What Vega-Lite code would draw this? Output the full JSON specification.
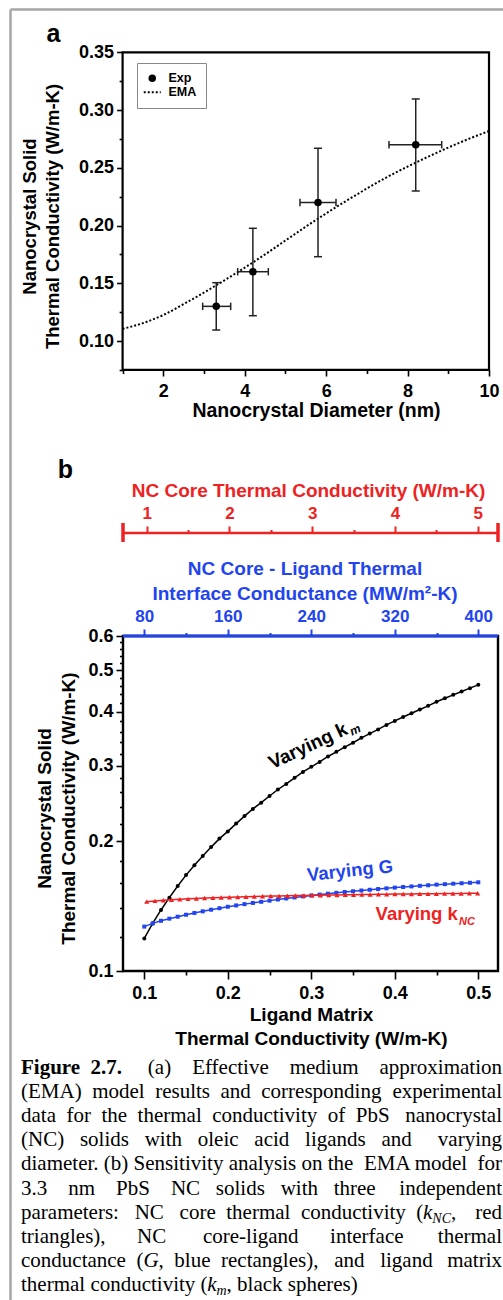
{
"$schema": "https://vega.github.io/schema/vega-lite/v6.json",
"width": 493, "height": 1291,
"autosize": {"type": "none"},
"padding": {"left": 10, "top": 9, "right": 0, "bottom": 0},
"background": "white",
"config": {
  "view": {"stroke": null},
  "font": "Liberation Sans",
  "axis": {"grid": false, "domain": false, "labelFont": "Liberation Sans", "titleFont": "Liberation Sans", "labelFontWeight": "bold", "titleFontWeight": "bold", "labelColor": "black", "titleColor": "black", "tickColor": "black", "tickWidth": 1.6, "labelOverlap": false, "labelFlush": false, "labelBound": false}
},
"datasets": {
  "ema": [
    {"d":1.0,"k":0.1105,"series":"EMA"},{"d":1.5,"k":0.1155,"series":"EMA"},{"d":2.0,"k":0.1225,"series":"EMA"},{"d":2.5,"k":0.132,"series":"EMA"},
    {"d":3.0,"k":0.142,"series":"EMA"},{"d":3.5,"k":0.1525,"series":"EMA"},{"d":4.0,"k":0.1635,"series":"EMA"},{"d":4.5,"k":0.175,"series":"EMA"},
    {"d":5.0,"k":0.187,"series":"EMA"},{"d":5.5,"k":0.199,"series":"EMA"},{"d":6.0,"k":0.2105,"series":"EMA"},{"d":6.5,"k":0.2215,"series":"EMA"},
    {"d":7.0,"k":0.232,"series":"EMA"},{"d":7.5,"k":0.242,"series":"EMA"},{"d":8.0,"k":0.251,"series":"EMA"},{"d":8.5,"k":0.2595,"series":"EMA"},
    {"d":9.0,"k":0.2675,"series":"EMA"},{"d":9.5,"k":0.275,"series":"EMA"},{"d":10.0,"k":0.2818,"series":"EMA"}
  ],
  "exp": [
    {"d":3.3,"k":0.13,"dlo":2.967,"dhi":3.655,"klo":0.1095,"khi":0.1505,"series":"Exp"},
    {"d":4.2,"k":0.16,"dlo":3.827,"dhi":4.579,"klo":0.1219,"khi":0.1976,"series":"Exp"},
    {"d":5.8,"k":0.22,"dlo":5.357,"dhi":6.242,"klo":0.173,"khi":0.2669,"series":"Exp"},
    {"d":8.2,"k":0.27,"dlo":7.543,"dhi":8.838,"klo":0.2299,"khi":0.3096,"series":"Exp"}
  ],
  "km": [
    {"km":0.10,"k":0.119},{"km":0.11,"k":0.129},{"km":0.12,"k":0.1386},{"km":0.13,"k":0.148},{"km":0.14,"k":0.1576},
    {"km":0.15,"k":0.167},{"km":0.16,"k":0.176},{"km":0.17,"k":0.185},{"km":0.18,"k":0.194},{"km":0.19,"k":0.203},
    {"km":0.20,"k":0.211},{"km":0.21,"k":0.220},{"km":0.22,"k":0.229},{"km":0.23,"k":0.238},{"km":0.24,"k":0.246},
    {"km":0.25,"k":0.255},{"km":0.26,"k":0.264},{"km":0.27,"k":0.272},{"km":0.28,"k":0.281},{"km":0.29,"k":0.290},
    {"km":0.30,"k":0.298},{"km":0.31,"k":0.306},{"km":0.32,"k":0.315},{"km":0.33,"k":0.323},{"km":0.34,"k":0.331},
    {"km":0.35,"k":0.339},{"km":0.36,"k":0.348},{"km":0.37,"k":0.356},{"km":0.38,"k":0.364},{"km":0.39,"k":0.373},
    {"km":0.40,"k":0.381},{"km":0.41,"k":0.389},{"km":0.42,"k":0.397},{"km":0.43,"k":0.405},{"km":0.44,"k":0.413},
    {"km":0.45,"k":0.422},{"km":0.46,"k":0.430},{"km":0.47,"k":0.438},{"km":0.48,"k":0.446},{"km":0.49,"k":0.454},
    {"km":0.50,"k":0.462}
  ],
  "g": [
    {"G":80,"k":0.1268},{"G":88,"k":0.129},{"G":96,"k":0.1308},{"G":104,"k":0.1323},{"G":112,"k":0.1337},
    {"G":120,"k":0.1351},{"G":128,"k":0.1364},{"G":136,"k":0.1376},{"G":144,"k":0.1388},{"G":152,"k":0.1399},
    {"G":160,"k":0.141},{"G":168,"k":0.142},{"G":176,"k":0.143},{"G":184,"k":0.1439},{"G":192,"k":0.1448},
    {"G":200,"k":0.1457},{"G":208,"k":0.1466},{"G":216,"k":0.1474},{"G":224,"k":0.1482},{"G":232,"k":0.149},
    {"G":240,"k":0.1498},{"G":248,"k":0.1505},{"G":256,"k":0.1512},{"G":264,"k":0.1519},{"G":272,"k":0.1526},
    {"G":280,"k":0.1532},{"G":288,"k":0.1538},{"G":296,"k":0.1544},{"G":304,"k":0.155},{"G":312,"k":0.1556},
    {"G":320,"k":0.1562},{"G":328,"k":0.1567},{"G":336,"k":0.1572},{"G":344,"k":0.1577},{"G":352,"k":0.1582},
    {"G":360,"k":0.1587},{"G":368,"k":0.1591},{"G":376,"k":0.1595},{"G":384,"k":0.1599},{"G":392,"k":0.1603},
    {"G":400,"k":0.1607}
  ],
  "knc": [
    {"kNC":1.0,"k":0.1449},{"kNC":1.1,"k":0.1455},{"kNC":1.2,"k":0.146},{"kNC":1.3,"k":0.1464},{"kNC":1.4,"k":0.1468},
    {"kNC":1.5,"k":0.1471},{"kNC":1.6,"k":0.1474},{"kNC":1.7,"k":0.1477},{"kNC":1.8,"k":0.148},{"kNC":1.9,"k":0.1482},
    {"kNC":2.0,"k":0.1484},{"kNC":2.1,"k":0.1486},{"kNC":2.2,"k":0.1488},{"kNC":2.3,"k":0.149},{"kNC":2.4,"k":0.1491},
    {"kNC":2.5,"k":0.1493},{"kNC":2.6,"k":0.1494},{"kNC":2.7,"k":0.1495},{"kNC":2.8,"k":0.1497},{"kNC":2.9,"k":0.1498},
    {"kNC":3.0,"k":0.1499},{"kNC":3.1,"k":0.15},{"kNC":3.2,"k":0.1501},{"kNC":3.3,"k":0.1502},{"kNC":3.4,"k":0.1503},
    {"kNC":3.5,"k":0.1504},{"kNC":3.6,"k":0.1505},{"kNC":3.7,"k":0.1506},{"kNC":3.8,"k":0.1507},{"kNC":3.9,"k":0.1508},
    {"kNC":4.0,"k":0.1509},{"kNC":4.1,"k":0.151},{"kNC":4.2,"k":0.151},{"kNC":4.3,"k":0.1511},{"kNC":4.4,"k":0.1512},
    {"kNC":4.5,"k":0.1512},{"kNC":4.6,"k":0.1513},{"kNC":4.7,"k":0.1514},{"kNC":4.8,"k":0.1514},{"kNC":4.9,"k":0.1515},
    {"kNC":5.0,"k":0.1515}
  ],
  "cap": [
    {"line":1,"part":"B","text":"Figure\u00a0\u00a02.7."},
    {"line":1,"part":"R","text":"(a)\u00a0\u00a0\u00a0\u00a0Effective\u00a0\u00a0\u00a0\u00a0medium\u00a0\u00a0\u00a0\u00a0approximation"},
    {"line":2,"part":"L","text":"(EMA)\u00a0\u00a0model\u00a0\u00a0results\u00a0\u00a0and\u00a0\u00a0corresponding"},
    {"line":2,"part":"R","text":"experimental"},
    {"line":3,"part":"L","text":"data\u00a0\u00a0for\u00a0\u00a0the\u00a0\u00a0thermal\u00a0\u00a0conductivity\u00a0\u00a0of\u00a0\u00a0PbS"},
    {"line":3,"part":"R","text":"nanocrystal"},
    {"line":4,"part":"L","text":"(NC)\u00a0\u00a0\u00a0solids\u00a0\u00a0\u00a0with\u00a0\u00a0\u00a0oleic\u00a0\u00a0\u00a0acid\u00a0\u00a0\u00a0ligands\u00a0\u00a0\u00a0and"},
    {"line":4,"part":"R","text":"varying"},
    {"line":5,"part":"L","text":"diameter. (b) Sensitivity analysis on the\u00a0 EMA model"},
    {"line":5,"part":"R","text":"for"},
    {"line":6,"part":"L","text":"3.3\u00a0\u00a0\u00a0\u00a0nm\u00a0\u00a0\u00a0\u00a0PbS\u00a0\u00a0\u00a0\u00a0NC\u00a0\u00a0\u00a0solids\u00a0\u00a0\u00a0with\u00a0\u00a0\u00a0three"},
    {"line":6,"part":"R","text":"independent"},
    {"line":7,"part":"L","text":"parameters:\u00a0\u00a0\u00a0NC\u00a0\u00a0\u00a0core\u00a0\u00a0thermal\u00a0\u00a0conductivity\u00a0\u00a0("},
    {"line":7,"part":"k7","text":"k"},
    {"line":7,"part":"NC7","text":"NC"},
    {"line":7,"part":"c7","text":","},
    {"line":7,"part":"R","text":"red"},
    {"line":8,"part":"L","text":"triangles),\u00a0\u00a0\u00a0\u00a0\u00a0\u00a0NC\u00a0\u00a0\u00a0\u00a0\u00a0\u00a0\u00a0core-ligand\u00a0\u00a0\u00a0\u00a0\u00a0\u00a0interface"},
    {"line":8,"part":"R","text":"thermal"},
    {"line":9,"part":"L","text":"conductance\u00a0\u00a0("},
    {"line":9,"part":"G9","text":"G"},
    {"line":9,"part":"r9","text":",\u00a0\u00a0blue\u00a0\u00a0rectangles),\u00a0\u00a0\u00a0and\u00a0\u00a0\u00a0ligand"},
    {"line":9,"part":"R","text":"matrix"},
    {"line":10,"part":"L","text":"thermal conductivity ("},
    {"line":10,"part":"k10","text":"k"},
    {"line":10,"part":"m10","text":"m"},
    {"line":10,"part":"r10","text":", black spheres)"}
  ]
},
"layer": [
  {
    "layer": [
      {
        "data": {"values": [{}]},
        "mark": {"type": "rect", "filled": false, "color": "black", "strokeWidth": 2.2},
        "encoding": {
          "x": {"datum": 1, "type": "quantitative", "scale": {"domain": [-1.76573, 10.34357], "nice": false, "zero": false},
                "axis": {"orient": "bottom", "offset": -930, "values": [1,2,3,4,5,6,7,8,9,10],
                         "tickSize": {"condition": {"test": "datum.value % 2 == 0", "value": 6}, "value": 3.5},
                         "labelExpr": "datum.value % 2 == 0 ? datum.label : ''", "labelFontSize": 18, "labelPadding": 6,
                         "title": "Nanocrystal Diameter (nm)", "titleFontSize": 19.5, "titlePadding": 1, "titleX": 306}},
          "x2": {"datum": 10},
          "y": {"datum": 0.075, "type": "quantitative", "scale": {"domain": [-0.730447, 0.387496], "nice": false, "zero": false},
                "axis": {"orient": "left", "offset": -112.6,
                         "values": [0.075,0.1,0.125,0.15,0.175,0.2,0.225,0.25,0.275,0.3,0.325,0.35],
                         "tickSize": {"condition": {"test": "abs(datum.value*20 - round(datum.value*20)) < 0.001", "value": 6}, "value": 3.5},
                         "labelExpr": "abs(datum.value*20 - round(datum.value*20)) < 0.001 ? format(datum.value, '.2f') : ''",
                         "labelFontSize": 18, "labelPadding": 3,
                         "title": ["Nanocrystal Solid", "Thermal Conductivity (W/m-K)"], "titleFontSize": 18.5, "titleLineHeight": 23,
                         "titlePadding": 16, "titleY": 207}},
          "y2": {"datum": 0.35}
        }
      },
      {
        "data": {"name": "ema"},
        "mark": {"type": "line", "color": "black", "strokeWidth": 2, "interpolate": "monotone"},
        "encoding": {
          "x": {"field": "d", "type": "quantitative", "scale": {"domain": [-1.76573, 10.34357], "nice": false, "zero": false}},
          "y": {"field": "k", "type": "quantitative", "scale": {"domain": [-0.730447, 0.387496], "nice": false, "zero": false}},
          "strokeDash": {"field": "series", "type": "nominal", "scale": {"domain": ["Exp", "EMA"], "range": [[1, 0], [2, 2]]},
            "legend": {"orient": "none", "legendX": 127, "legendY": 54, "title": null, "padding": 9, "strokeColor": "#888888", "fillColor": "white",
                       "labelFont": "Liberation Sans", "labelFontWeight": "bold", "labelFontSize": 12.5, "labelOffset": 10, "rowPadding": 1,
                       "symbolSize": 289, "symbolStrokeColor": "black", "symbolFillColor": "black",
                       "encode": {"symbols": {"update": {"size": {"signal": "datum.value === 'Exp' ? 56 : 289"}, "strokeWidth": {"signal": "datum.value === 'Exp' ? 0 : 2"}, "fill": {"value": "black"}, "stroke": {"value": "black"}}}}}}
        }
      },
      {
        "data": {"name": "exp"},
        "mark": {"type": "rule", "color": "#222222", "strokeWidth": 1.5},
        "encoding": {
          "x": {"field": "d", "type": "quantitative", "scale": {"domain": [-1.76573, 10.34357], "nice": false, "zero": false}},
          "y": {"field": "klo", "type": "quantitative", "scale": {"domain": [-0.730447, 0.387496], "nice": false, "zero": false}},
          "y2": {"field": "khi"}
        }
      },
      {
        "data": {"name": "exp"},
        "mark": {"type": "rule", "color": "#222222", "strokeWidth": 1.5},
        "encoding": {
          "x": {"field": "dlo", "type": "quantitative", "scale": {"domain": [-1.76573, 10.34357], "nice": false, "zero": false}},
          "x2": {"field": "dhi"},
          "y": {"field": "k", "type": "quantitative", "scale": {"domain": [-0.730447, 0.387496], "nice": false, "zero": false}}
        }
      },
      {
        "data": {"name": "exp"},
        "mark": {"type": "point", "shape": "stroke", "size": 64, "color": "#222222", "strokeWidth": 1.5, "opacity": 1, "filled": false},
        "encoding": {
          "x": {"field": "d", "type": "quantitative", "scale": {"domain": [-1.76573, 10.34357], "nice": false, "zero": false}},
          "y": {"field": "klo", "type": "quantitative", "scale": {"domain": [-0.730447, 0.387496], "nice": false, "zero": false}}
        }
      },
      {
        "data": {"name": "exp"},
        "mark": {"type": "point", "shape": "stroke", "size": 64, "color": "#222222", "strokeWidth": 1.5, "opacity": 1, "filled": false},
        "encoding": {
          "x": {"field": "d", "type": "quantitative", "scale": {"domain": [-1.76573, 10.34357], "nice": false, "zero": false}},
          "y": {"field": "khi", "type": "quantitative", "scale": {"domain": [-0.730447, 0.387496], "nice": false, "zero": false}}
        }
      },
      {
        "data": {"name": "exp"},
        "mark": {"type": "point", "shape": "M0,-1L0,1", "size": 56, "color": "#222222", "strokeWidth": 1.5, "opacity": 1, "filled": false},
        "encoding": {
          "x": {"field": "dlo", "type": "quantitative", "scale": {"domain": [-1.76573, 10.34357], "nice": false, "zero": false}},
          "y": {"field": "k", "type": "quantitative", "scale": {"domain": [-0.730447, 0.387496], "nice": false, "zero": false}}
        }
      },
      {
        "data": {"name": "exp"},
        "mark": {"type": "point", "shape": "M0,-1L0,1", "size": 56, "color": "#222222", "strokeWidth": 1.5, "opacity": 1, "filled": false},
        "encoding": {
          "x": {"field": "dhi", "type": "quantitative", "scale": {"domain": [-1.76573, 10.34357], "nice": false, "zero": false}},
          "y": {"field": "k", "type": "quantitative", "scale": {"domain": [-0.730447, 0.387496], "nice": false, "zero": false}}
        }
      },
      {
        "data": {"name": "exp"},
        "mark": {"type": "point", "filled": true, "size": 56, "color": "black", "opacity": 1},
        "encoding": {
          "x": {"field": "d", "type": "quantitative", "scale": {"domain": [-1.76573, 10.34357], "nice": false, "zero": false}},
          "y": {"field": "k", "type": "quantitative", "scale": {"domain": [-0.730447, 0.387496], "nice": false, "zero": false}},
          "shape": {"field": "series", "type": "nominal", "scale": {"domain": ["Exp", "EMA"], "range": ["circle", "stroke"]},
            "legend": {"orient": "none", "legendX": 127, "legendY": 54, "title": null, "padding": 9, "strokeColor": "#888888", "fillColor": "white",
                       "labelFont": "Liberation Sans", "labelFontWeight": "bold", "labelFontSize": 12.5, "labelOffset": 10, "rowPadding": 1,
                       "symbolSize": 289, "symbolStrokeColor": "black", "symbolFillColor": "black",
                       "encode": {"symbols": {"update": {"size": {"signal": "datum.value === 'Exp' ? 56 : 289"}, "strokeWidth": {"signal": "datum.value === 'Exp' ? 0 : 2"}, "fill": {"value": "black"}, "stroke": {"value": "black"}}}}}}
        }
      },
      {
        "data": {"values": [{}]},
        "mark": {"type": "text", "text": "a", "font": "Liberation Sans", "fontWeight": "bold", "fontSize": 25, "align": "center", "baseline": "alphabetic", "color": "black"},
        "encoding": {
          "x": {"datum": -0.6973, "type": "quantitative", "scale": {"domain": [-1.76573, 10.34357], "nice": false, "zero": false}},
          "y": {"datum": 0.35892, "type": "quantitative", "scale": {"domain": [-0.730447, 0.387496], "nice": false, "zero": false}}
        }
      }
    ]
  },
  {
    "layer": [
      {
        "layer": [
          {
            "data": {"values": [{}]},
            "mark": {"type": "rect", "filled": false, "color": "black", "strokeWidth": 2.4},
            "encoding": {
              "x": {"datum": 0.074491, "type": "quantitative", "scale": {"domain": [-0.060838, 0.529581], "nice": false, "zero": false},
                    "axis": {"orient": "bottom", "offset": -329, "values": [0.1,0.15,0.2,0.25,0.3,0.35,0.4,0.45,0.5],
                             "tickSize": {"condition": {"test": "abs(datum.value*10 - round(datum.value*10)) < 0.001", "value": 8}, "value": 4},
                             "labelExpr": "abs(datum.value*10 - round(datum.value*10)) < 0.001 ? format(datum.value, '.1f') : ''",
                             "labelFontSize": 18, "labelPadding": 5,
                             "title": ["Ligand Matrix", "Thermal Conductivity (W/m-K)"], "titleFontSize": 19, "titleLineHeight": 24, "titlePadding": 3, "titleX": 301}},
              "x2": {"datum": 0.523593},
              "y": {"datum": 0.1, "type": "quantitative", "scale": {"type": "log", "domain": [0.0172102, 17.1622], "nice": false},
                    "axis": {"orient": "left", "offset": -113,
                             "values": [0.1,0.12,0.14,0.16,0.18,0.2,0.22,0.24,0.26,0.28,0.3,0.32,0.34,0.36,0.38,0.4,0.42,0.44,0.46,0.48,0.5,0.52,0.54,0.56,0.58,0.6],
                             "tickSize": {"condition": {"test": "abs(datum.value*10 - round(datum.value*10)) < 0.001", "value": 7}, "value": 3.5},
                             "labelExpr": "abs(datum.value*10 - round(datum.value*10)) < 0.001 ? format(datum.value, '.1f') : ''",
                             "labelFontSize": 18, "labelPadding": 3,
                             "title": ["Nanocrystal Solid", "Thermal Conductivity (W/m-K)"], "titleFontSize": 19, "titleLineHeight": 24,
                             "titlePadding": 9, "titleY": 799}},
              "y2": {"datum": 0.6}
            }
          },
          {
            "data": {"name": "km"},
            "mark": {"type": "line", "color": "black", "strokeWidth": 1.5, "point": {"filled": true, "size": 16, "color": "black"}},
            "encoding": {
              "x": {"field": "km", "type": "quantitative", "scale": {"domain": [-0.060838, 0.529581], "nice": false, "zero": false}},
              "y": {"field": "k", "type": "quantitative", "scale": {"type": "log", "domain": [0.0172102, 17.1622], "nice": false}}
            }
          },
          {
            "data": {"values": [{}]},
            "mark": {"type": "text", "text": "Varying k", "font": "Liberation Sans", "fontWeight": "bold", "fontSize": 19, "angle": 335, "align": "center", "baseline": "middle", "color": "black"},
            "encoding": {
              "x": {"datum": 0.296048, "type": "quantitative", "scale": {"domain": [-0.060838, 0.529581], "nice": false, "zero": false}},
              "y": {"datum": 0.333154, "type": "quantitative", "scale": {"type": "log", "domain": [0.0172102, 17.1622], "nice": false}}
            }
          },
          {
            "data": {"values": [{}]},
            "mark": {"type": "text", "text": "m", "font": "Liberation Sans", "fontWeight": "bold", "fontStyle": "italic", "fontSize": 12, "angle": 335, "align": "center", "baseline": "middle", "color": "black"},
            "encoding": {
              "x": {"datum": 0.352575, "type": "quantitative", "scale": {"domain": [-0.060838, 0.529581], "nice": false, "zero": false}},
              "y": {"datum": 0.36295, "type": "quantitative", "scale": {"type": "log", "domain": [0.0172102, 17.1622], "nice": false}}
            }
          },
          {
            "data": {"values": [{}]},
            "mark": {"type": "text", "text": "Varying G", "font": "Liberation Sans", "fontWeight": "bold", "fontSize": 18.5, "angle": 354, "align": "center", "baseline": "middle", "color": "#2244ee"},
            "encoding": {
              "x": {"datum": 0.346347, "type": "quantitative", "scale": {"domain": [-0.060838, 0.529581], "nice": false, "zero": false}},
              "y": {"datum": 0.170996, "type": "quantitative", "scale": {"type": "log", "domain": [0.0172102, 17.1622], "nice": false}}
            }
          },
          {
            "data": {"values": [{}]},
            "mark": {"type": "text", "text": "Varying k", "font": "Liberation Sans", "fontWeight": "bold", "fontSize": 18.5, "align": "center", "baseline": "middle", "color": "#ee2222"},
            "encoding": {
              "x": {"datum": 0.426228, "type": "quantitative", "scale": {"domain": [-0.060838, 0.529581], "nice": false, "zero": false}},
              "y": {"datum": 0.135645, "type": "quantitative", "scale": {"type": "log", "domain": [0.0172102, 17.1622], "nice": false}}
            }
          },
          {
            "data": {"values": [{}]},
            "mark": {"type": "text", "text": "NC", "font": "Liberation Sans", "fontWeight": "bold", "fontStyle": "italic", "fontSize": 11, "align": "center", "baseline": "middle", "color": "#ee2222"},
            "encoding": {
              "x": {"datum": 0.486467, "type": "quantitative", "scale": {"domain": [-0.060838, 0.529581], "nice": false, "zero": false}},
              "y": {"datum": 0.129963, "type": "quantitative", "scale": {"type": "log", "domain": [0.0172102, 17.1622], "nice": false}}
            }
          },
          {
            "data": {"values": [{}]},
            "mark": {"type": "text", "text": "b", "font": "Liberation Sans", "fontWeight": "bold", "fontSize": 25, "align": "center", "baseline": "alphabetic", "color": "black"},
            "encoding": {
              "x": {"datum": 0.005629, "type": "quantitative", "scale": {"domain": [-0.060838, 0.529581], "nice": false, "zero": false}},
              "y": {"datum": 1.39694, "type": "quantitative", "scale": {"type": "log", "domain": [0.0172102, 17.1622], "nice": false}}
            }
          }
        ]
      },
      {
        "layer": [
          {
            "data": {"values": [{}]},
            "mark": {"type": "rule", "color": "#2244ee", "strokeWidth": 3},
            "encoding": {
              "x": {"datum": 59.593, "type": "quantitative", "scale": {"domain": [-48.671, 423.665], "nice": false, "zero": false},
                    "axis": {"orient": "top", "offset": -627, "values": [80,120,160,200,240,280,320,360,400],
                             "tickSize": {"condition": {"test": "datum.value % 80 == 0", "value": 7}, "value": 3.5},
                             "tickColor": "#2244ee", "tickWidth": 2, "labelColor": "#2244ee",
                             "labelExpr": "datum.value % 80 == 0 ? format(datum.value, 'd') : ''", "labelFontSize": 17, "labelPadding": 4,
                             "title": ["NC Core - Ligand Thermal", "Interface Conductance (MW/m²-K)"], "titleColor": "#2244ee",
                             "titleFontSize": 19, "titleLineHeight": 25, "titlePadding": 4, "titleX": 294.5}},
              "x2": {"datum": 418.874},
              "y": {"datum": 0.6, "type": "quantitative", "scale": {"type": "log", "domain": [0.0172102, 17.1622], "nice": false}}
            }
          },
          {
            "data": {"name": "g"},
            "mark": {"type": "line", "color": "#2244ee", "strokeWidth": 1.5, "point": {"filled": true, "shape": "square", "size": 16, "color": "#2244ee"}},
            "encoding": {
              "x": {"field": "G", "type": "quantitative", "scale": {"domain": [-48.671, 423.665], "nice": false, "zero": false}},
              "y": {"field": "k", "type": "quantitative", "scale": {"type": "log", "domain": [0.0172102, 17.1622], "nice": false}}
            }
          }
        ]
      },
      {
        "layer": [
          {
            "data": {"values": [{}]},
            "mark": {"type": "rule", "color": "#ee2222", "strokeWidth": 2.6},
            "encoding": {
              "x": {"datum": 0.7136, "type": "quantitative", "scale": {"domain": [-0.65196, 5.30574], "nice": false, "zero": false},
                    "axis": {"orient": "top", "offset": -524, "values": [1,1.5,2,2.5,3,3.5,4,4.5,5],
                             "tickSize": {"condition": {"test": "datum.value % 1 == 0", "value": 7}, "value": 3.5},
                             "tickColor": "#ee2222", "tickWidth": 2, "labelColor": "#ee2222",
                             "labelExpr": "datum.value % 1 == 0 ? format(datum.value, 'd') : ''", "labelFontSize": 17, "labelPadding": 4,
                             "title": "NC Core Thermal Conductivity (W/m-K)", "titleColor": "#ee2222",
                             "titleFontSize": 19, "titlePadding": 4, "titleX": 298}},
              "x2": {"datum": 5.2453},
              "y": {"datum": 1.04092, "type": "quantitative", "scale": {"type": "log", "domain": [0.0172102, 17.1622], "nice": false}}
            }
          },
          {
            "data": {"values": [{}]},
            "mark": {"type": "rule", "color": "#ee2222", "strokeWidth": 3.5},
            "encoding": {
              "x": {"datum": 0.7136, "type": "quantitative", "scale": {"domain": [-0.65196, 5.30574], "nice": false, "zero": false}},
              "y": {"datum": 0.99193, "type": "quantitative", "scale": {"type": "log", "domain": [0.0172102, 17.1622], "nice": false}},
              "y2": {"datum": 1.09811}
            }
          },
          {
            "data": {"values": [{}]},
            "mark": {"type": "rule", "color": "#ee2222", "strokeWidth": 3.5},
            "encoding": {
              "x": {"datum": 5.2453, "type": "quantitative", "scale": {"domain": [-0.65196, 5.30574], "nice": false, "zero": false}},
              "y": {"datum": 0.99193, "type": "quantitative", "scale": {"type": "log", "domain": [0.0172102, 17.1622], "nice": false}},
              "y2": {"datum": 1.09811}
            }
          },
          {
            "data": {"name": "knc"},
            "mark": {"type": "line", "color": "#ee2222", "strokeWidth": 1.5, "point": {"filled": true, "shape": "triangle-up", "size": 26, "color": "#ee2222"}},
            "encoding": {
              "x": {"field": "kNC", "type": "quantitative", "scale": {"domain": [-0.65196, 5.30574], "nice": false, "zero": false}},
              "y": {"field": "k", "type": "quantitative", "scale": {"type": "log", "domain": [0.0172102, 17.1622], "nice": false}}
            }
          }
        ]
      }
    ],
    "resolve": {"scale": {"x": "independent"}, "axis": {"x": "independent"}}
  },
  {
    "data": {"name": "cap"},
    "layer": [
      {
        "transform": [{"filter": "datum.part === 'L'"}],
        "mark": {"type": "text", "align": "left", "baseline": "alphabetic", "font": "Liberation Serif", "fontSize": 21, "color": "black"},
        "encoding": {
          "x": {"datum": 0, "type": "quantitative", "scale": {"domain": [-0.022869, 1.002079], "nice": false, "zero": false},
                "axis": {"orient": "top", "domain": true, "domainColor": "#a6a6a6", "domainWidth": 2.5, "ticks": false, "labels": false, "title": null, "offset": 0}},
          "y": {"field": "line", "type": "quantitative", "scale": {"domain": [-43.171, 10.373], "reverse": true, "nice": false, "zero": false},
                "axis": {"orient": "left", "domain": true, "domainColor": "#a6a6a6", "domainWidth": 2.5, "ticks": false, "labels": false, "title": null, "offset": 0}},
          "text": {"field": "text"}
        }
      },
      {
        "transform": [{"filter": "datum.part === 'B'"}],
        "mark": {"type": "text", "align": "left", "baseline": "alphabetic", "font": "Liberation Serif", "fontWeight": "bold", "fontSize": 21, "color": "black"},
        "encoding": {
          "x": {"datum": 0, "type": "quantitative", "scale": {"domain": [-0.022869, 1.002079], "nice": false, "zero": false}},
          "y": {"field": "line", "type": "quantitative", "scale": {"domain": [-43.171, 10.373], "reverse": true, "nice": false, "zero": false}},
          "text": {"field": "text"}
        }
      },
      {
        "transform": [{"filter": "datum.part === 'R'"}],
        "mark": {"type": "text", "align": "right", "baseline": "alphabetic", "font": "Liberation Serif", "fontSize": 21, "color": "black"},
        "encoding": {
          "x": {"datum": 1, "type": "quantitative", "scale": {"domain": [-0.022869, 1.002079], "nice": false, "zero": false}},
          "y": {"field": "line", "type": "quantitative", "scale": {"domain": [-43.171, 10.373], "reverse": true, "nice": false, "zero": false}},
          "text": {"field": "text"}
        }
      },
      {
        "transform": [{"filter": "datum.part === 'k7'"}],
        "mark": {"type": "text", "align": "left", "baseline": "alphabetic", "font": "Liberation Serif", "fontStyle": "italic", "fontSize": 21, "color": "black"},
        "encoding": {
          "x": {"datum": 0.8358, "type": "quantitative", "scale": {"domain": [-0.022869, 1.002079], "nice": false, "zero": false}},
          "y": {"field": "line", "type": "quantitative", "scale": {"domain": [-43.171, 10.373], "reverse": true, "nice": false, "zero": false}},
          "text": {"field": "text"}
        }
      },
      {
        "transform": [{"filter": "datum.part === 'NC7'"}],
        "mark": {"type": "text", "align": "left", "baseline": "alphabetic", "font": "Liberation Serif", "fontStyle": "italic", "fontSize": 14, "dy": 4, "color": "black"},
        "encoding": {
          "x": {"datum": 0.8551, "type": "quantitative", "scale": {"domain": [-0.022869, 1.002079], "nice": false, "zero": false}},
          "y": {"field": "line", "type": "quantitative", "scale": {"domain": [-43.171, 10.373], "reverse": true, "nice": false, "zero": false}},
          "text": {"field": "text"}
        }
      },
      {
        "transform": [{"filter": "datum.part === 'c7'"}],
        "mark": {"type": "text", "align": "left", "baseline": "alphabetic", "font": "Liberation Serif", "fontSize": 21, "color": "black"},
        "encoding": {
          "x": {"datum": 0.894, "type": "quantitative", "scale": {"domain": [-0.022869, 1.002079], "nice": false, "zero": false}},
          "y": {"field": "line", "type": "quantitative", "scale": {"domain": [-43.171, 10.373], "reverse": true, "nice": false, "zero": false}},
          "text": {"field": "text"}
        }
      },
      {
        "transform": [{"filter": "datum.part === 'G9'"}],
        "mark": {"type": "text", "align": "left", "baseline": "alphabetic", "font": "Liberation Serif", "fontStyle": "italic", "fontSize": 21, "color": "black"},
        "encoding": {
          "x": {"datum": 0.2547, "type": "quantitative", "scale": {"domain": [-0.022869, 1.002079], "nice": false, "zero": false}},
          "y": {"field": "line", "type": "quantitative", "scale": {"domain": [-43.171, 10.373], "reverse": true, "nice": false, "zero": false}},
          "text": {"field": "text"}
        }
      },
      {
        "transform": [{"filter": "datum.part === 'r9'"}],
        "mark": {"type": "text", "align": "left", "baseline": "alphabetic", "font": "Liberation Serif", "fontSize": 21, "color": "black"},
        "encoding": {
          "x": {"datum": 0.2861, "type": "quantitative", "scale": {"domain": [-0.022869, 1.002079], "nice": false, "zero": false}},
          "y": {"field": "line", "type": "quantitative", "scale": {"domain": [-43.171, 10.373], "reverse": true, "nice": false, "zero": false}},
          "text": {"field": "text"}
        }
      },
      {
        "transform": [{"filter": "datum.part === 'k10'"}],
        "mark": {"type": "text", "align": "left", "baseline": "alphabetic", "font": "Liberation Serif", "fontStyle": "italic", "fontSize": 21, "color": "black"},
        "encoding": {
          "x": {"datum": 0.3871, "type": "quantitative", "scale": {"domain": [-0.022869, 1.002079], "nice": false, "zero": false}},
          "y": {"field": "line", "type": "quantitative", "scale": {"domain": [-43.171, 10.373], "reverse": true, "nice": false, "zero": false}},
          "text": {"field": "text"}
        }
      },
      {
        "transform": [{"filter": "datum.part === 'm10'"}],
        "mark": {"type": "text", "align": "left", "baseline": "alphabetic", "font": "Liberation Serif", "fontStyle": "italic", "fontSize": 14, "dy": 4, "color": "black"},
        "encoding": {
          "x": {"datum": 0.4064, "type": "quantitative", "scale": {"domain": [-0.022869, 1.002079], "nice": false, "zero": false}},
          "y": {"field": "line", "type": "quantitative", "scale": {"domain": [-43.171, 10.373], "reverse": true, "nice": false, "zero": false}},
          "text": {"field": "text"}
        }
      },
      {
        "transform": [{"filter": "datum.part === 'r10'"}],
        "mark": {"type": "text", "align": "left", "baseline": "alphabetic", "font": "Liberation Serif", "fontSize": 21, "color": "black"},
        "encoding": {
          "x": {"datum": 0.4274, "type": "quantitative", "scale": {"domain": [-0.022869, 1.002079], "nice": false, "zero": false}},
          "y": {"field": "line", "type": "quantitative", "scale": {"domain": [-43.171, 10.373], "reverse": true, "nice": false, "zero": false}},
          "text": {"field": "text"}
        }
      }
    ]
  }
],
"resolve": {"scale": {"x": "independent", "y": "independent"}, "axis": {"x": "independent", "y": "independent"}}
}
